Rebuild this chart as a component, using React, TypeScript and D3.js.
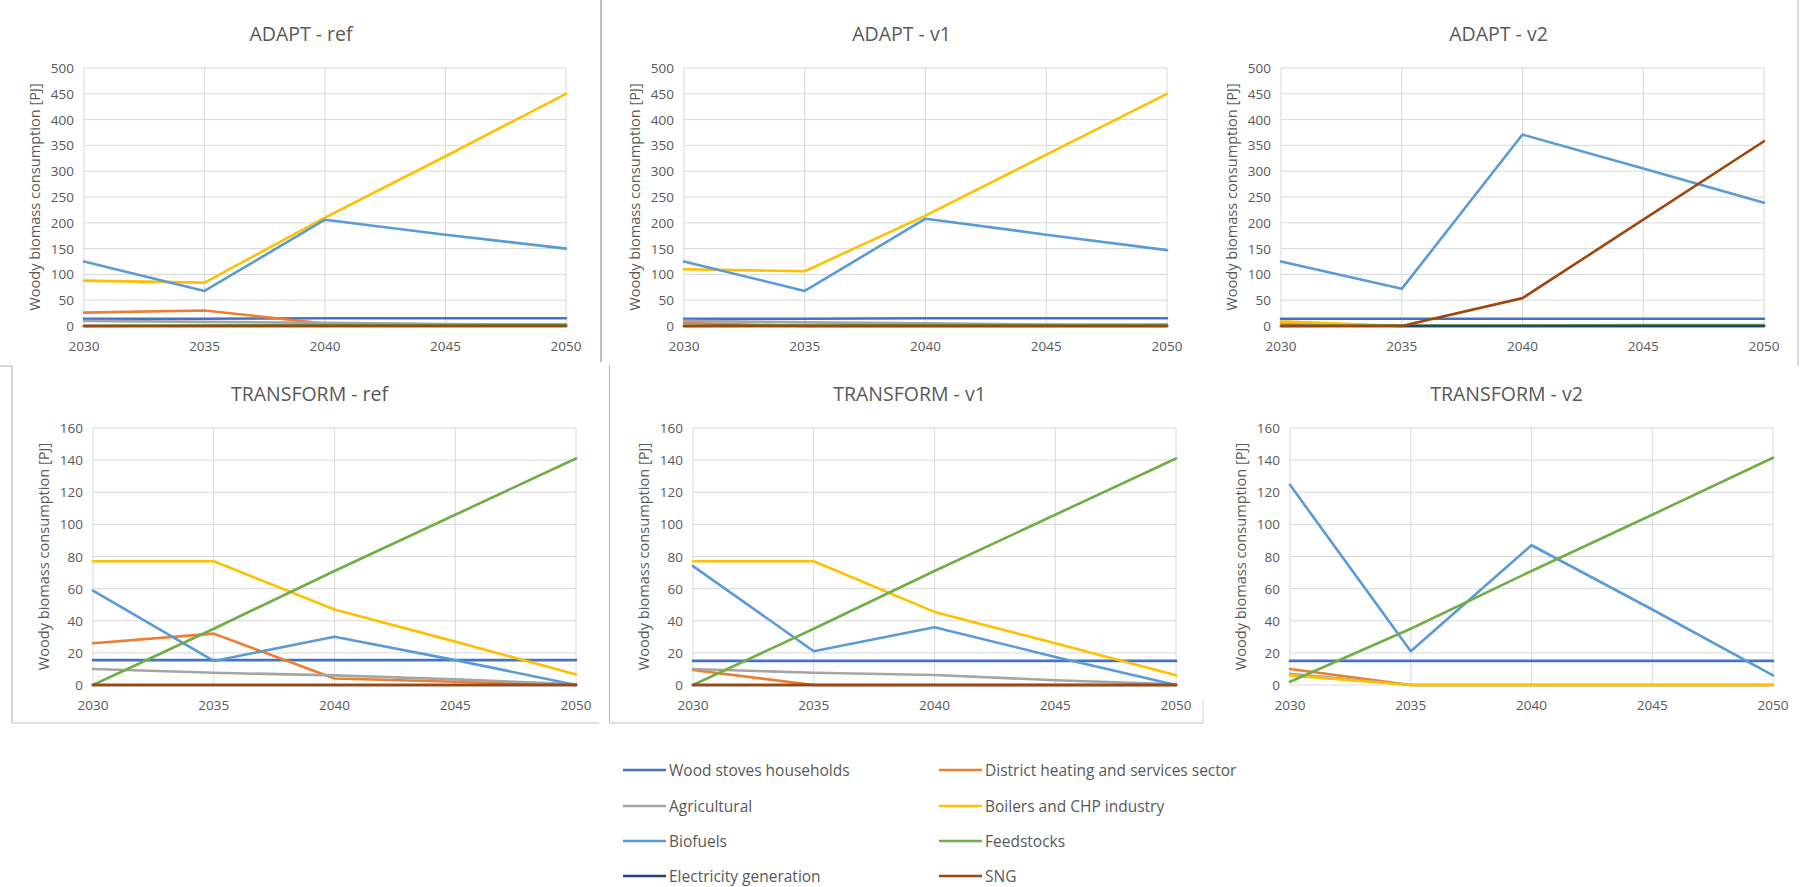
import React from 'react';
import * as d3 from 'd3';

const years = [2030, 2035, 2040, 2045, 2050];

const seriesNames = [
  'Wood stoves households',
  'District heating and services sector',
  'Agricultural',
  'Boilers and CHP industry',
  'Biofuels',
  'Feedstocks',
  'Electricity generation',
  'SNG',
];
const seriesColors = ['#4472C4', '#ED7D31', '#A5A5A5', '#FFC000', '#5B9BD5', '#70AD47', '#264478', '#9E480E'];

const adaptTicks = [0, 50, 100, 150, 200, 250, 300, 350, 400, 450, 500];
const transformTicks = [0, 20, 40, 60, 80, 100, 120, 140, 160];

const panelTitles = ['ADAPT - ref', 'ADAPT - v1', 'ADAPT - v2', 'TRANSFORM - ref', 'TRANSFORM - v1', 'TRANSFORM - v2'];

// rows follow seriesNames order
const adaptRef: (number[] | null)[] = [
  [14, 14, 15, 15, 15],
  [26, 30, 5, 3, 2],
  [10, 8, 6, 4, 2],
  [88, 84, 210, 329, 450],
  [125, 68, 206, 177, 150],
  [0, 1, 2, 2, 3],
  [0, 0, 0, 0, 0],
  [0, 0, 0, 0, 0],
];
const adaptV1: (number[] | null)[] = [
  [14, 14, 15, 15, 15],
  [6, 0, 0, 0, 0],
  [10, 7, 5, 3, 1],
  [110, 106, 214, 332, 450],
  [125, 68, 208, 177, 147],
  [0, 1, 2, 2, 3],
  [0, 0, 0, 0, 0],
  [0, 0, 0, 0, 0],
];
const adaptV2: (number[] | null)[] = [
  [14, 14, 14, 14, 14],
  [5, 0, 0, 0, 0],
  [6, 0, 0, 0, 0],
  [9, 0, 0, 0, 0],
  [125, 72, 371, 305, 239],
  [0, 1, 1, 2, 2],
  [0, 0, 0, 0, 0],
  [0, 0, 54, 206, 358],
];
const transformRef: (number[] | null)[] = [
  [15.5, 15.5, 15.5, 15.5, 15.5],
  [26, 32, 4, 2, 0],
  [10, 7.6, 6, 3.5, 0.5],
  [77, 77, 47, 27, 6.6],
  [58.7, 15, 30, 15.5, 0],
  [0, 35, 71, 106, 141],
  [0, 0, 0, 0, 0],
  [0, 0, 0, 0, 0],
];
const transformV1: (number[] | null)[] = [
  [15, 15, 15, 15, 15],
  [9.3, 0, 0, 0, 0],
  [10, 7.6, 6.2, 3, 0.5],
  [77, 77, 45.5, 26, 6],
  [74, 21, 36, 17.5, 0],
  [0, 35, 71, 106, 141],
  [0, 0, 0, 0, 0],
  [0, 0, 0, 0, 0],
];
const transformV2: (number[] | null)[] = [
  [15, 15, 15, 15, 15],
  [10, 0, 0, 0, 0],
  [7, 0, 0, 0, 0],
  [6, 0, 0, 0, 0],
  [124.6, 21, 87, 47, 6],
  [2, 35, 71, 106, 141.5],
  null,
  null,
];

const panelData = [adaptRef, adaptV1, adaptV2, transformRef, transformV1, transformV2];

// layout
const panelBoxes = [
  { l: 84, r: 566, t: 68, b: 326, titleDx: -24 },
  { l: 684, r: 1167, t: 68, b: 326, titleDx: -24 },
  { l: 1281, r: 1764, t: 68, b: 326, titleDx: -24 },
  { l: 93, r: 576, t: 428, b: 685, titleDx: -25 },
  { l: 693, r: 1176, t: 428, b: 685, titleDx: -25 },
  { l: 1290, r: 1773, t: 428, b: 685, titleDx: -25 },
];

const FONT = "'Open Sans', 'Liberation Sans', sans-serif";
const TXT = '#595959';
const GRID = '#d9d9d9';

function Panel({ idx }: { idx: number }) {
  const box = panelBoxes[idx];
  const isAdapt = idx < 3;
  const ticks = isAdapt ? adaptTicks : transformTicks;
  const x = d3.scaleLinear().domain([years[0], years[years.length - 1]]).range([box.l, box.r]);
  const y = d3.scaleLinear().domain([0, ticks[ticks.length - 1]]).range([box.b, box.t]);
  const line = d3
    .line<number>()
    .x((_, i) => x(years[i]))
    .y((d) => y(d));
  const data = panelData[idx];
  const midX = (box.l + box.r) / 2 + box.titleDx;
  const titleY = box.t - 35;
  return (
    <g>
      <text x={midX} y={titleY} textAnchor="middle" dominantBaseline="central" fontFamily={FONT} fontSize={19.5} fill={TXT}>
        {panelTitles[idx]}
      </text>
      {ticks.map((t) => (
        <line key={'h' + t} x1={box.l} x2={box.r} y1={y(t)} y2={y(t)} stroke={GRID} strokeWidth={1} />
      ))}
      {years.map((yr) => (
        <line key={'v' + yr} x1={x(yr)} x2={x(yr)} y1={box.t} y2={box.b} stroke={GRID} strokeWidth={1} />
      ))}
      {ticks.map((t) => (
        <text key={'yl' + t} x={box.l - 10} y={y(t)} textAnchor="end" dominantBaseline="central" fontFamily={FONT} fontSize={13.5} fill={TXT}>
          {t}
        </text>
      ))}
      {years.map((yr) => (
        <text key={'xl' + yr} x={x(yr)} y={box.b + 20} textAnchor="middle" dominantBaseline="central" fontFamily={FONT} fontSize={13.5} fill={TXT}>
          {yr}
        </text>
      ))}
      <text
        transform={`translate(${box.l - 50},${(box.t + box.b) / 2}) rotate(-90)`}
        textAnchor="middle"
        dominantBaseline="central"
        fontFamily={FONT}
        fontSize={14.6}
        fill={TXT}
      >
        Woody biomass consumption [PJ]
      </text>
      {data.map((vals, si) =>
        vals ? (
          <path
            key={'s' + si}
            d={line(vals) || ''}
            fill="none"
            stroke={seriesColors[si]}
            strokeWidth={2.6}
            strokeLinejoin="round"
            strokeLinecap="round"
          />
        ) : null
      )}
    </g>
  );
}

const legendCols = [623, 939];
const legendRows = [770, 806, 841, 876];

export default function App() {
  return (
    <svg
      width={1802}
      height={887}
      style={{ position: 'absolute', left: 0, top: 0, background: '#ffffff' }}
    >
      <rect x={0} y={0} width={1802} height={887} fill="#ffffff" />
      {/* frame fragments */}
      <line x1={601} x2={601} y1={0} y2={362} stroke="#a6a6a6" strokeWidth={1.5} />
      <line x1={609.5} x2={609.5} y1={365} y2={723} stroke="#bfbfbf" strokeWidth={1.2} />
      <line x1={609.5} x2={1203} y1={723} y2={723} stroke="#bfbfbf" strokeWidth={1.2} />
      <line x1={12} x2={12} y1={366} y2={723} stroke="#bfbfbf" strokeWidth={1.2} />
      <line x1={0} x2={12} y1={366} y2={366} stroke="#bfbfbf" strokeWidth={1.2} />
      <line x1={12} x2={599} y1={723} y2={723} stroke="#bfbfbf" strokeWidth={1.2} />
      <line x1={1798} x2={1798} y1={0} y2={366} stroke="#bfbfbf" strokeWidth={1.2} />
      <line x1={1203} x2={1203} y1={700} y2={723} stroke="#d0d0d0" strokeWidth={1} />
      {panelTitles.map((_, i) => (
        <Panel key={i} idx={i} />
      ))}
      {seriesNames.map((name, i) => {
        const cx = legendCols[i % 2];
        const cy = legendRows[Math.floor(i / 2)];
        return (
          <g key={name}>
            <line x1={cx} x2={cx + 43} y1={cy} y2={cy} stroke={seriesColors[i]} strokeWidth={2.6} />
            <text x={cx + 46} y={cy} dominantBaseline="central" fontFamily={FONT} fontSize={15.5} fill={TXT}>
              {name}
            </text>
          </g>
        );
      })}
    </svg>
  );
}
